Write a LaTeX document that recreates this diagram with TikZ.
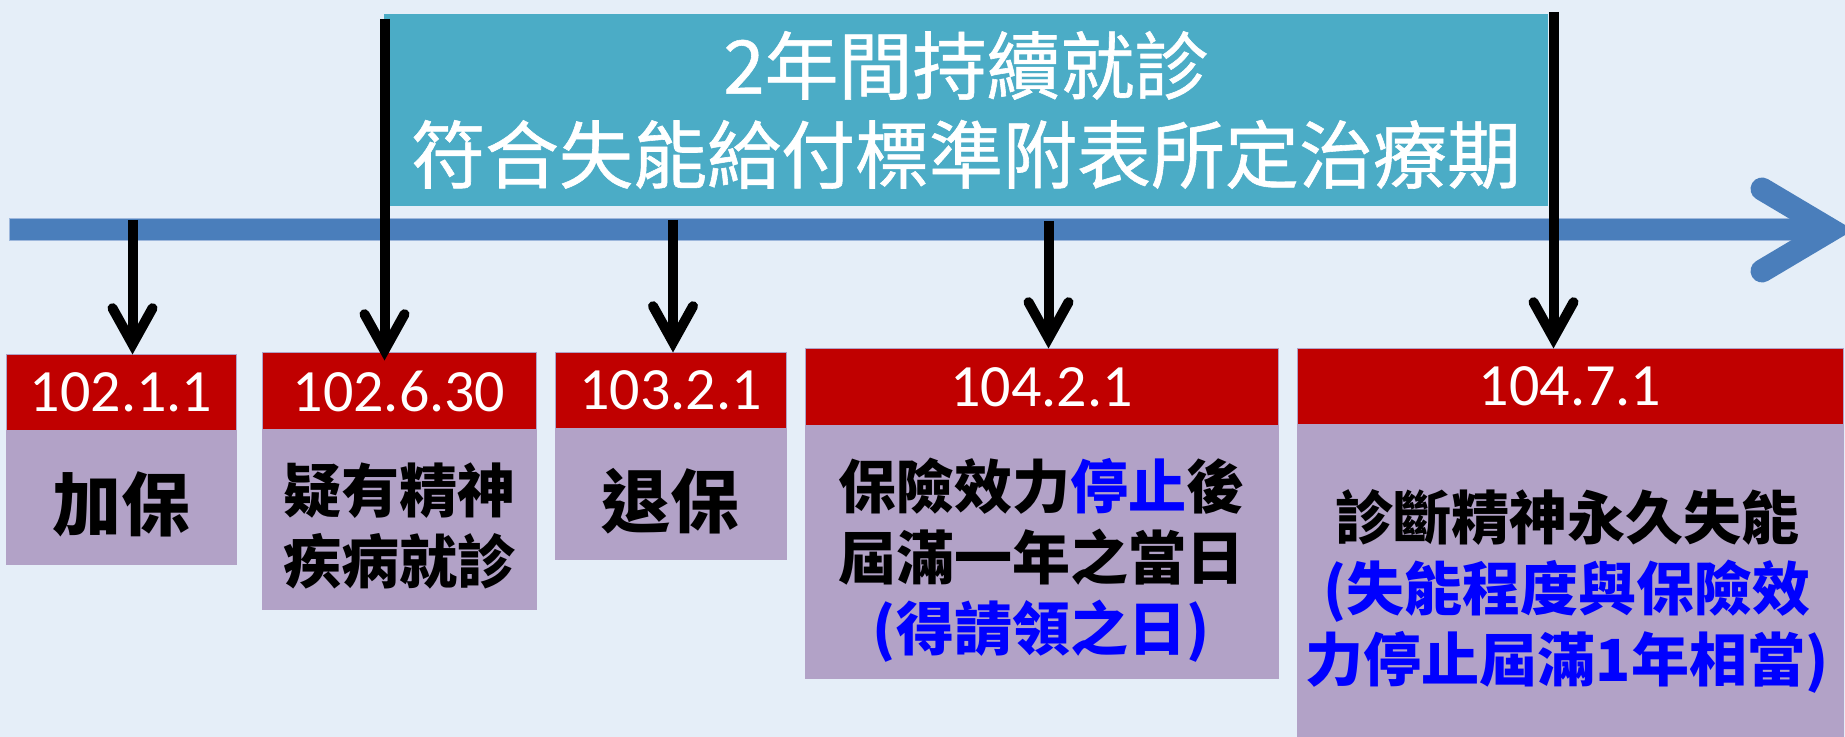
\documentclass[tikz,border=0pt]{standalone}
\usepackage{fontspec}
\newfontfamily\cjk{Noto Sans CJK TC}
\newfontfamily\cjkhead[FakeBold=0.8]{Noto Sans CJK TC}
\newfontfamily\datefont{Carlito}
\usetikzlibrary{arrows.meta}
\definecolor{bgc}{HTML}{E5EEF8}
\definecolor{tealbox}{HTML}{4BACC6}
\definecolor{barc}{HTML}{4A7EBB}
\definecolor{barline}{HTML}{9DB7DC}
\definecolor{dred}{HTML}{C00000}
\definecolor{lav}{HTML}{B2A2C7}
\definecolor{hblue}{HTML}{0000FF}
\tikzset{
  datebox/.style={fill=dred, draw=lav, line width=0.5pt, inner sep=0pt, text=white,
    font=\datefont\fontsize{30}{30}\selectfont},
  descbox/.style={fill=lav, draw=lav, line width=0.5pt, inner sep=0pt},
  desc/.style={align=center, inner sep=0pt, font=\cjk\bfseries\fontsize{29}{35.5}\selectfont},
  bigdesc/.style={inner sep=0pt, font=\cjk\bfseries\fontsize{34.5}{40}\selectfont},
  arr/.style={draw=black, line width=5pt,
    -{Straight Barb[length=18pt,width=20pt,line cap=round,line join=miter]}},
}
\begin{document}
\begin{tikzpicture}[x=0.5pt,y=-0.5pt]
\useasboundingbox (0,0) rectangle (1845,737);
\clip (0,0) rectangle (1845,737);
\fill[bgc] (0,0) rectangle (1845,737);
% heading box
\node[fill=tealbox, inner sep=0pt, minimum width=582pt, minimum height=96pt,
  text=white, align=center, font=\cjkhead\fontsize{37}{44.5}\selectfont] (top) at (966,110)
  {2年間持續就診\\符合失能給付標準附表所定治療期};
% time line
\fill[barc, draw=barline, line width=0.5pt] (9,219) rectangle (1825,241);
\draw[barc, line width=11.5pt, line cap=round, line join=miter] (1762,189) -- (1831,230) -- (1762,271);
% event boxes
\node[datebox, minimum width=115pt, minimum height=37.5pt] (d1) at (121,392.5) {102.1.1};
\node[descbox, minimum width=115pt, minimum height=67pt] (p1) at (121,497) {};
\node[bigdesc] (l1) at (121,504) {加保};

\node[datebox, minimum width=137pt, minimum height=38pt] (d2) at (399,391) {102.6.30};
\node[descbox, minimum width=137pt, minimum height=90pt] (p2) at (399,519) {};
\node[desc] (l2) at (399,526.5) {疑有精神\\疾病就診};

\node[datebox, minimum width=115.5pt, minimum height=37.5pt] (d3) at (670.5,390.5) {103.2.1};
\node[descbox, minimum width=115.5pt, minimum height=65.5pt] (p3) at (670.5,493.5) {};
\node[bigdesc] (l3) at (670,501) {退保};

\node[datebox, minimum width=236.5pt, minimum height=38pt] (d4) at (1041.5,387) {104.2.1};
\node[descbox, minimum width=236.5pt, minimum height=126.5pt] (p4) at (1041.5,551.5) {};
\node[desc] (l4) at (1041,560.5) {保險效力\textcolor{hblue}{停止}後\\屆滿一年之當日\\\textcolor{hblue}{(得請領之日)}};

\node[datebox, minimum width=273pt, minimum height=37.5pt] (d5) at (1570,386.5) {104.7.1};
\node[descbox, minimum width=273pt, minimum height=160.5pt] (p5) at (1570,584.5) {};
\node[desc] (l5) at (1567,591) {診斷精神永久失能\\\textcolor{hblue}{(失能程度與保險效}\\\textcolor{hblue}{力停止屆滿1年相當)}};
% arrows
\coordinate (s1) at (132.5,220);
\coordinate (s2) at (384.5,19);
\coordinate (s3) at (673,220);
\coordinate (s4) at (1048.5,221);
\coordinate (s5) at (1553.5,12);
\draw[arr] (s1) -- (s1 |- d1.north);
\draw[arr, shorten >=-4pt] (s2) -- (s2 |- d2.north);
\draw[arr] (s3) -- (s3 |- d3.north);
\draw[arr] (s4) -- (s4 |- d4.north);
\draw[arr] (s5) -- (s5 |- d5.north);
\end{tikzpicture}
\end{document}
